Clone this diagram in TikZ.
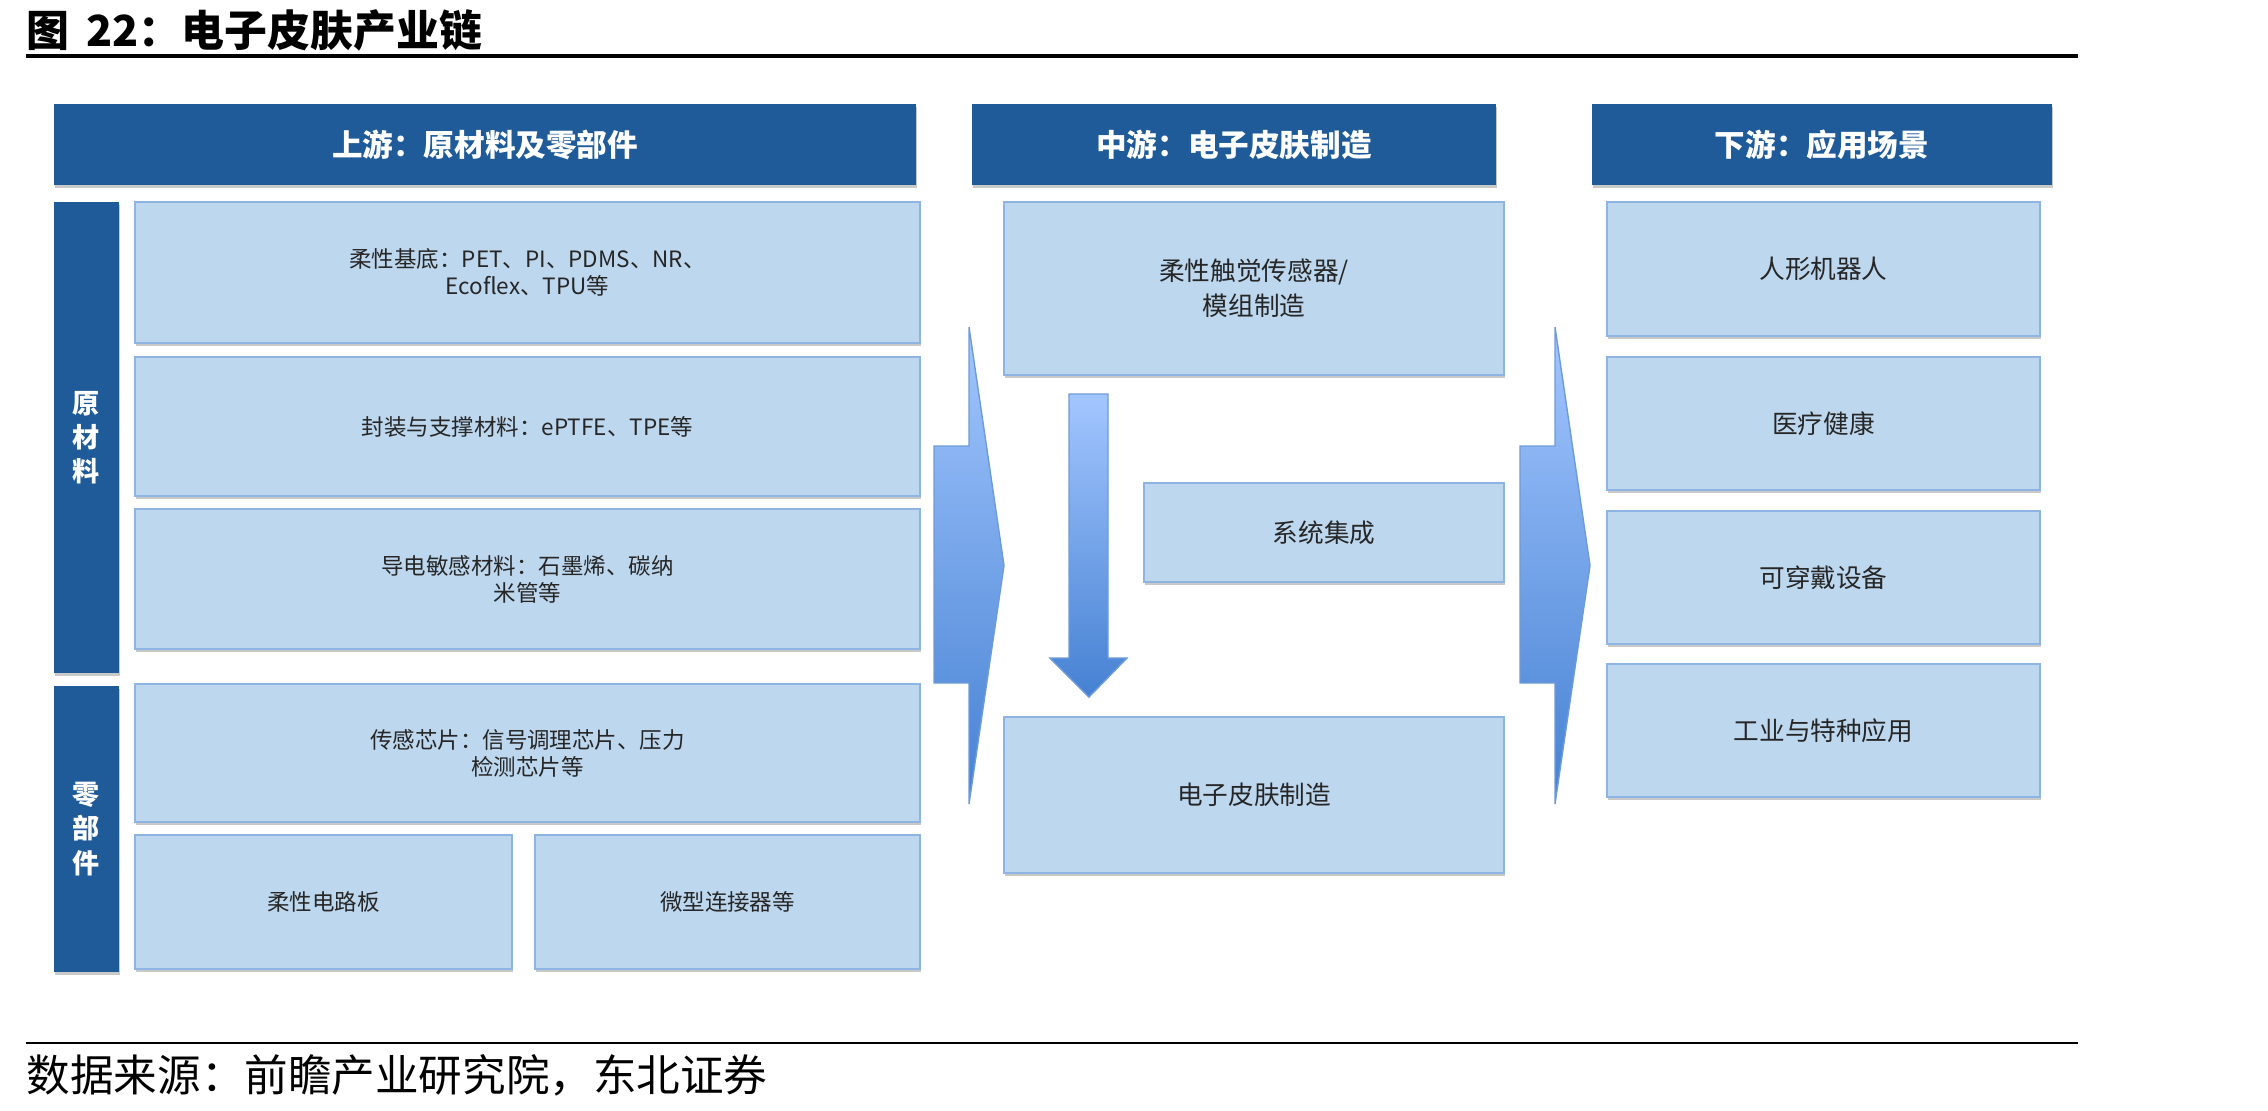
\documentclass[tikz,border=0pt]{standalone}
\usepackage{fontspec}
\setmainfont{Noto Sans CJK SC}
\usetikzlibrary{shadows}
\definecolor{hdrblue}{HTML}{1F5B99}
\definecolor{cellfill}{HTML}{BDD7EE}
\definecolor{celledge}{HTML}{8DB4E2}
\definecolor{celltext}{HTML}{262626}
\definecolor{arrowtop}{HTML}{A3C6FF}
\definecolor{arrowbot}{HTML}{4581D2}
\definecolor{arrowedge}{HTML}{6E9BD8}

\begin{document}
\begin{tikzpicture}[
  softshadow/.style={drop shadow={shadow xshift=0.3pt, shadow yshift=-0.9pt, opacity=0.3, fill=black!70}},
  hdr/.style={fill=hdrblue, text=white, inner sep=0pt, minimum height=0.81cm,
    font=\fontsize{8.7}{10}\selectfont\bfseries, softshadow},
  side/.style={fill=hdrblue, text=white, inner sep=0pt, minimum width=0.65cm, align=center,
    font=\fontsize{7.7}{9.7}\selectfont\bfseries, softshadow},
  cell/.style={fill=cellfill, draw=celledge, line width=0.6pt, text=celltext, inner sep=0pt,
    align=center, font=\fontsize{6.4}{7.7}\selectfont, softshadow},
  bigcell/.style={cell, font=\fontsize{7.3}{10}\selectfont},
  blockarrow/.style={top color=arrowtop, bottom color=arrowbot, draw=arrowedge, line width=0.4pt}
]
  \useasboundingbox (0.0, 0.0) rectangle (22.68, -11.10);

  \node[anchor=west, inner sep=0pt, font=\fontsize{12.2}{14}\selectfont\bfseries] (title) at (0.26, -0.30) {图\hspace{0.4em}22：电子皮肤产业链};
  \draw[line width=1.1pt] (0.26, -0.56) -- (20.78, -0.56);

  \node[hdr, minimum width=8.62cm] (up) at (4.85, -1.445) {上游：原材料及零部件};
  \node[hdr, minimum width=5.24cm] (mid) at (12.34, -1.445) {中游：电子皮肤制造};
  \node[hdr, minimum width=4.60cm] (down) at (18.22, -1.445) {下游：应用场景};

  \node[side, minimum height=4.71cm] (raw) at (0.865, -4.375) {原\\材\\料};
  \node[side, minimum height=2.86cm] (part) at (0.865, -8.29) {零\\部\\件};

  \node[cell, minimum width=7.85cm, minimum height=1.41cm] (substrate) at (5.275, -2.725) {柔性基底：PET、PI、PDMS、NR、\\Ecoflex、TPU等};
  \node[cell, minimum width=7.85cm, minimum height=1.39cm] (package) at (5.275, -4.265) {封装与支撑材料：ePTFE、TPE等};
  \node[cell, minimum width=7.85cm, minimum height=1.40cm] (sensing) at (5.275, -5.79) {导电敏感材料：石墨烯、碳纳\\米管等};
  \node[cell, minimum width=7.85cm, minimum height=1.38cm] (chip) at (5.275, -7.53) {传感芯片：信号调理芯片、压力\\检测芯片等};
  \node[cell, minimum width=3.77cm, minimum height=1.34cm] (fpc) at (3.235, -9.02) {柔性电路板};
  \node[cell, minimum width=3.85cm, minimum height=1.34cm] (connector) at (7.275, -9.02) {微型连接器等};

  \node[bigcell, minimum width=5.00cm, minimum height=1.73cm] (module) at (12.54, -2.885) {柔性触觉传感器/\\模组制造};
  \node[bigcell, minimum width=3.60cm, minimum height=0.99cm] (system) at (13.24, -5.325) {系统集成};
  \node[bigcell, minimum width=5.00cm, minimum height=1.56cm] (eskin) at (12.54, -7.95) {电子皮肤制造};

  \node[bigcell, minimum width=4.33cm, minimum height=1.34cm] (robot) at (18.235, -2.69) {人形机器人};
  \node[bigcell, minimum width=4.33cm, minimum height=1.33cm] (medical) at (18.235, -4.235) {医疗健康};
  \node[bigcell, minimum width=4.33cm, minimum height=1.33cm] (wearable) at (18.235, -5.775) {可穿戴设备};
  \node[bigcell, minimum width=4.33cm, minimum height=1.33cm] (industry) at (18.235, -7.305) {工业与特种应用};

  \shadedraw[blockarrow] (9.34, -4.46) -- (9.69, -4.46) -- (9.69, -3.27) -- (10.04, -5.655) -- (9.69, -8.04) -- (9.69, -6.83) -- (9.34, -6.83) -- cycle;
  \shadedraw[blockarrow] (15.20, -4.46) -- (15.55, -4.46) -- (15.55, -3.27) -- (15.90, -5.655) -- (15.55, -8.04) -- (15.55, -6.83) -- (15.20, -6.83) -- cycle;
  \shadedraw[blockarrow] (10.69, -3.94) -- (11.08, -3.94) -- (11.08, -6.58) -- (11.27, -6.58) -- (10.89, -6.97) -- (10.50, -6.58) -- (10.69, -6.58) -- cycle;

  \draw[line width=0.8pt] (0.26, -10.43) -- (20.78, -10.43);
  \node[anchor=west, inner sep=0pt, font=\fontsize{12.4}{14}\selectfont] (source) at (0.26, -10.75) {数据来源：前瞻产业研究院，东北证券};
\end{tikzpicture}
\end{document}
